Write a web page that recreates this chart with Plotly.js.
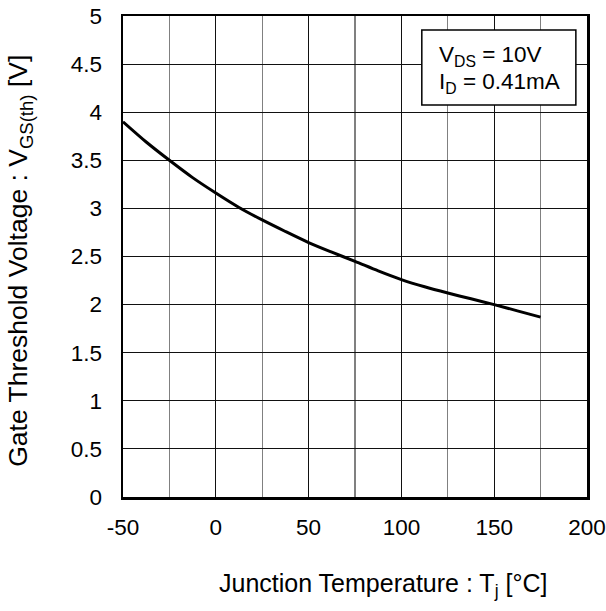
<!DOCTYPE html>
<html>
<head>
<meta charset="utf-8">
<script src="https://cdn.plot.ly/plotly-3.0.1.min.js"></script>
<style>html,body{margin:0;padding:0;background:#fff;}#chart{width:606px;height:611px;}</style>
</head>
<body>
<div id="chart"></div>
<script>
const temperature = [-50, -37.5, -25, -12.5, 0, 12.5, 25, 37.5, 50, 62.5, 75, 87.5, 100, 112.5, 125, 137.5, 150, 162.5, 175];
const vgsth = [3.9, 3.69, 3.5, 3.32, 3.16, 3.01, 2.88, 2.76, 2.645, 2.545, 2.45, 2.35, 2.26, 2.185, 2.12, 2.06, 2.0, 1.935, 1.87];
const xTicks = [-50, 0, 50, 100, 150, 200];
const yTicks = [0, 0.5, 1, 1.5, 2, 2.5, 3, 3.5, 4, 4.5, 5];
const yTickLabels = ['0', '0.5', '1', '1.5', '2', '2.5', '3', '3.5', '4', '4.5', '5'];
const xTitle = 'Junction Temperature : T<sub>j</sub> [°C]';
const yTitle = 'Gate Threshold Voltage : V<sub>GS(th)</sub> [V]';
const conditionLines = ['V<sub>DS</sub> = 10V', 'I<sub>D</sub> = 0.41mA'];

const fam = 'Liberation Sans, Arial, sans-serif';

const trace = {
  x: temperature, y: vgsth, type: 'scatter', mode: 'lines',
  line: {color: '#000', width: 3, shape: 'spline', smoothing: 0.8},
  hoverinfo: 'skip', showlegend: false
};

const layout = {
  width: 606, height: 611,
  margin: {l: 123, r: 19, t: 16, b: 114},
  paper_bgcolor: '#fff', plot_bgcolor: '#fff',
  font: {family: fam, size: 22, color: '#000'},
  xaxis: {
    range: [-50, 200], tickvals: xTicks, ticktext: xTicks.map(String),
    showgrid: true, gridcolor: '#111', gridwidth: 1,
    minor: {dtick: 25, tick0: -50, showgrid: true, gridcolor: '#808080', gridwidth: 1.3, ticks: ''},
    showline: true, linecolor: '#000', linewidth: 2.5, mirror: true,
    ticks: '', zeroline: false, automargin: false, ticklabelstandoff: 8,
    tickfont: {family: fam, size: 22.5, color: '#000'}
  },
  yaxis: {
    range: [0, 5], tickvals: yTicks, ticktext: yTickLabels,
    showgrid: true, gridcolor: '#111', gridwidth: 1,
    showline: true, linecolor: '#000', linewidth: 2.5, mirror: true,
    ticks: '', zeroline: false, automargin: false, ticklabelstandoff: 14,
    tickfont: {family: fam, size: 22.5, color: '#000'}
  },
  shapes: [{
    type: 'rect', xref: 'paper', yref: 'paper',
    x0: 0.644, x1: 0.976, y0: 0.815, y1: 0.971,
    line: {color: '#000', width: 1.5}, fillcolor: '#fff', layer: 'above'
  }],
  annotations: [
    {
      xref: 'paper', yref: 'paper', x: 0.677, y: 0.916, xanchor: 'left', yanchor: 'middle',
      text: conditionLines[0], align: 'left', showarrow: false,
      font: {family: fam, size: 22.5, color: '#000'}
    },
    {
      xref: 'paper', yref: 'paper', x: 0.677, y: 0.861, xanchor: 'left', yanchor: 'middle',
      text: conditionLines[1], align: 'left', showarrow: false,
      font: {family: fam, size: 22.5, color: '#000'}
    },
    {
      xref: 'paper', yref: 'paper', x: 0.56, y: -0.183, xanchor: 'center', yanchor: 'middle',
      text: xTitle, showarrow: false,
      font: {family: fam, size: 25, color: '#000'}
    },
    {
      xref: 'paper', yref: 'paper', x: -0.222, y: 0.491, xanchor: 'center', yanchor: 'middle',
      text: yTitle, showarrow: false, textangle: -90,
      font: {family: fam, size: 26.5, color: '#000'}
    }
  ]
};

Plotly.newPlot('chart', [trace], layout, {staticPlot: true, displayModeBar: false});
</script>
</body>
</html>
